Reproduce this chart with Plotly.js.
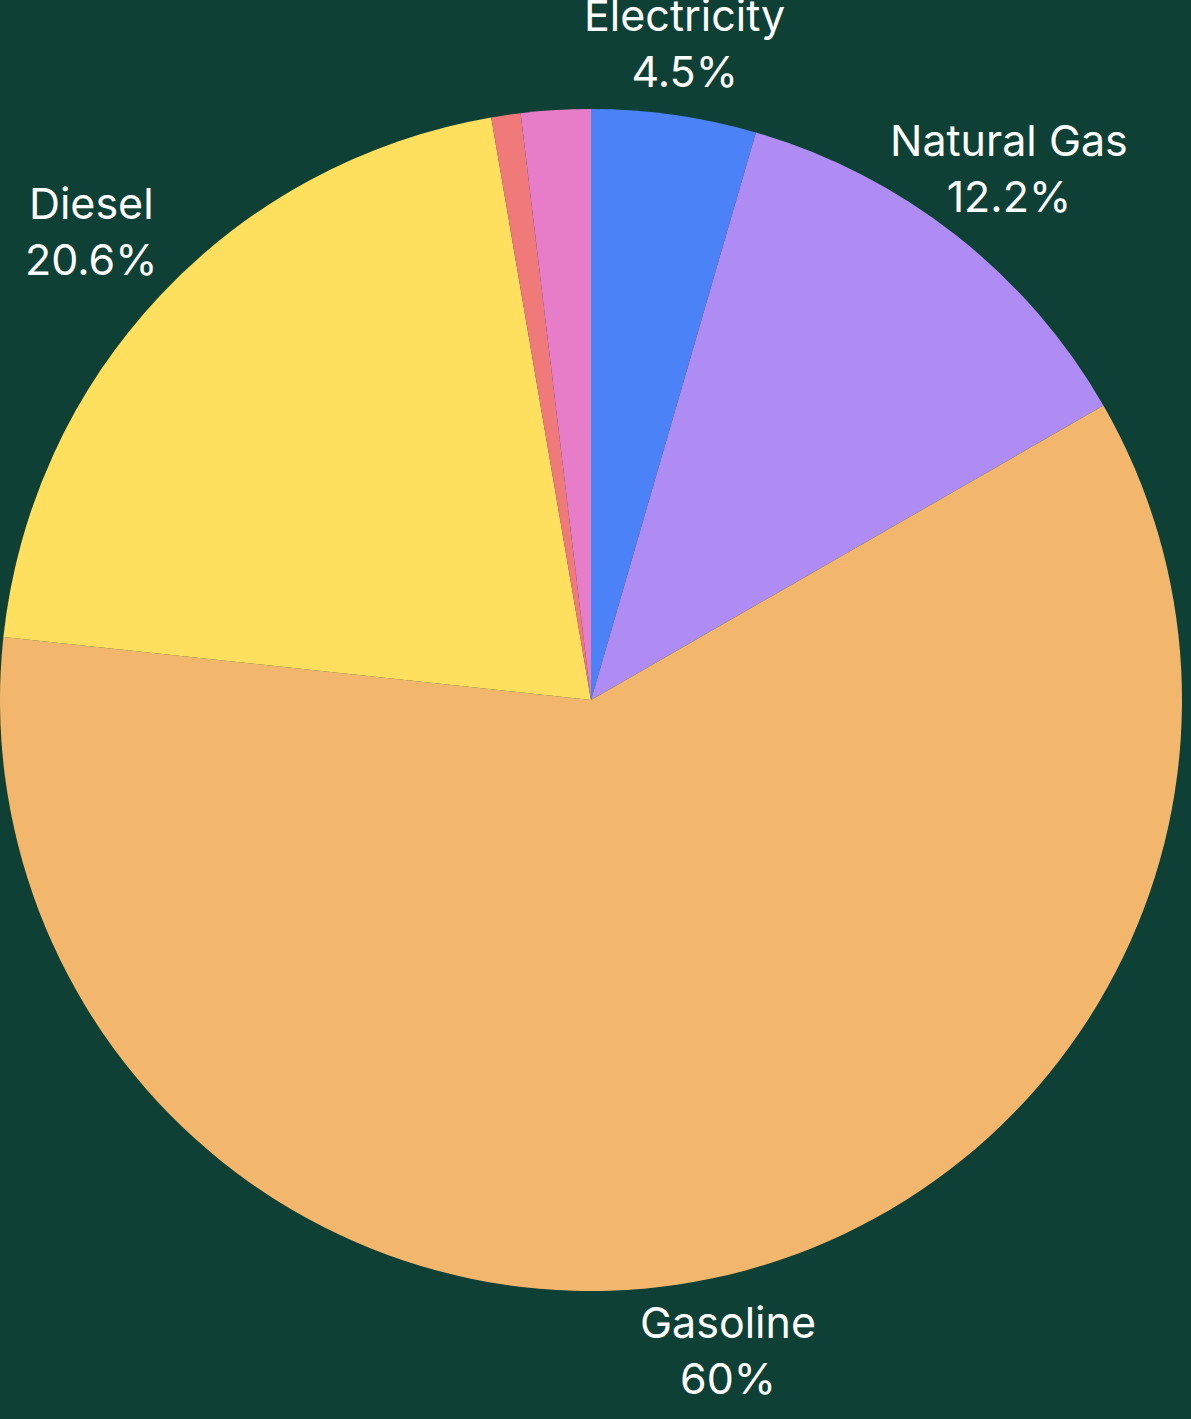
<!DOCTYPE html>
<html>
<head>
<meta charset="utf-8">
<script src="https://cdn.plot.ly/plotly-3.0.1.min.js"></script>
<style>html,body{margin:0;padding:0;background:#0e4036;}#chart{width:1191px;height:1419px;}</style>
</head>
<body>
<div id="chart"></div>
<script>
const labels = ["Electricity", "Natural Gas", "Gasoline", "Diesel", "Propane", "Other"];
const values = [4.5, 12.2, 60, 20.6, 0.8, 1.9];
const colors = ["#4c82f7", "#ae8cf3", "#f2b76d", "#ffdf5e", "#f07a7a", "#e77cc8"];
const showLabel = [true, true, true, true, false, false];

const FONT_FAMILY = "Inter, sans-serif";
const FONT_SIZE = 43;
const W = 1191, H = 1419;
const margin = {l: 0, r: 9, t: 0, b: 19, pad: 0};

const trace = {
  type: "pie",
  labels: labels,
  values: values,
  sort: false,
  direction: "clockwise",
  rotation: 0,
  marker: {colors: colors, line: {width: 0}},
  textinfo: "none",
  hoverinfo: "label+percent",
  showlegend: false,
  automargin: false
};

const layout = {
  width: W,
  height: H,
  paper_bgcolor: "#0e4036",
  plot_bgcolor: "#0e4036",
  margin: margin,
  showlegend: false,
  font: {family: FONT_FAMILY, color: "#ffffff", size: FONT_SIZE}
};

function fmtPct(p) {
  const v = Math.round(p * 10) / 10;
  return (Number.isInteger(v) ? v.toFixed(0) : v.toFixed(1)) + "%";
}

Plotly.newPlot("chart", [trace], layout, {displayModeBar: false}).then(function (gd) {
  const cd = gd.calcdata && gd.calcdata[0];
  const plotW = W - margin.l - margin.r, plotH = H - margin.t - margin.b;
  let cx = margin.l + plotW / 2, cy = margin.t + plotH / 2, r = Math.min(plotW, plotH) / 2;
  if (cd && cd[0] && isFinite(cd[0].r)) { cx = cd[0].cx; cy = cd[0].cy; r = cd[0].r; }

  const total = values.reduce((a, b) => a + b, 0);
  const ctx = document.createElement("canvas").getContext("2d");
  ctx.font = FONT_SIZE + "px Inter";
  const halfH = 47.5, gap = 25;

  let cum = 0;
  const annotations = [];
  values.forEach(function (v, i) {
    const mid = (cum + v / 2) / total * 2 * Math.PI;
    cum += v;
    if (!showLabel[i]) return;
    const pct = fmtPct(v / total * 100);
    const w = Math.max(ctx.measureText(labels[i]).width, ctx.measureText(pct).width);
    const s = Math.sin(mid), c = Math.cos(mid);
    const edge = Math.min(Math.abs(s) > 1e-6 ? (w / 2) / Math.abs(s) : Infinity,
                          Math.abs(c) > 1e-6 ? halfH / Math.abs(c) : Infinity);
    const R = r + edge + gap;
    const px = cx + R * s, py = cy - R * c;
    annotations.push({
      xref: "paper", yref: "paper",
      x: (px - margin.l) / plotW,
      y: 1 - (py - margin.t) / plotH,
      xanchor: "center", yanchor: "middle",
      text: labels[i] + "<br>" + pct,
      showarrow: false,
      align: "center",
      font: {family: FONT_FAMILY, size: FONT_SIZE, color: "#ffffff"}
    });
  });
  return Plotly.relayout(gd, {annotations: annotations});
});
</script>
</body>
</html>
